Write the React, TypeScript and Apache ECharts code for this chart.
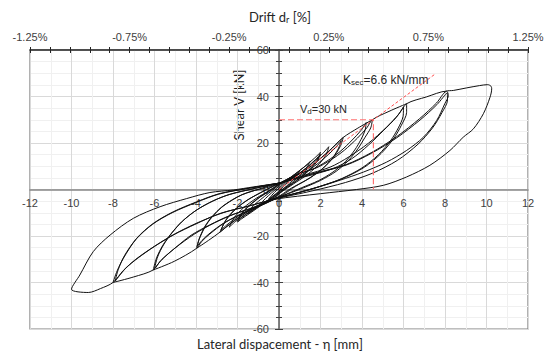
import React, { useEffect, useRef } from 'react';
import * as echarts from 'echarts';

type Pt = [number, number];

// Hysteresis loops: lateral displacement eta [mm], shear V [kN]
const loop05: Pt[] = [[0,0],[0.25,2.2],[0.5,4.3],[0.35,2.4],[0.1,0.2],[-0.15,-1.8],[-0.5,-4.0],[-0.35,-2.5],[-0.1,-0.2],[0.1,1.5]];
const loop10: Pt[] = [[0.1,1.5],[0.4,3.8],[0.75,6.0],[1.0,8.0],[0.8,5.4],[0.5,2.6],[0.2,0.2],[-0.1,-1.8],[-0.5,-4.4],[-0.8,-6.0],[-1.0,-7.5],[-0.8,-5.2],[-0.5,-2.6],[-0.2,-0.2],[0.05,1.8]];
const loop15: Pt[] = [[0.05,1.8],[0.5,4.8],[1.0,8.2],[1.3,10.3],[1.5,12],[1.3,9],[1.0,6],[0.6,2.8],[0.2,0.3],[-0.15,-2.2],[-0.6,-5],[-1.1,-8],[-1.5,-10.5],[-1.3,-7.6],[-0.9,-4.4],[-0.5,-1.6],[-0.1,1.2],[0.05,2.3]];
const loop20a: Pt[] = [[0.05,2.3],[0.6,5.5],[1.2,9.6],[1.7,13.4],[2.0,16],[1.85,12.8],[1.5,9],[1.0,5],[0.5,1.8],[0,-1.6],[-0.2,-3],[-0.8,-6.5],[-1.4,-10.2],[-1.8,-12.6],[-2,-14],[-1.8,-10.5],[-1.4,-6.8],[-0.9,-3.2],[-0.4,-0.4],[0.05,2.5]];
const loop20b: Pt[] = [[0.05,2.5],[0.7,5.2],[1.3,9.2],[1.75,12.8],[2.0,15.2],[1.8,11.6],[1.4,7.8],[0.9,4],[0.4,1],[-0.2,-3.2],[-0.8,-6.2],[-1.4,-9.6],[-2.0,-13.4],[-1.75,-9.6],[-1.3,-5.8],[-0.8,-2.4],[-0.3,0.4],[0.05,2.6]];
const loop25: Pt[] = [[0.05,2.6],[0.75,5.6],[1.5,10.6],[2.05,15],[2.4,18.4],[2.25,14.6],[1.85,10.2],[1.3,6],[0.7,2.4],[0,-1.8],[-0.2,-3.6],[-0.9,-6.8],[-1.6,-10.6],[-2.1,-13.8],[-2.4,-16.2],[-2.15,-12],[-1.7,-7.8],[-1.1,-3.8],[-0.5,-0.6],[0.05,2.7]];
const loop30a: Pt[] = [[0.05,2.6],[0.8,5.6],[1.6,10.4],[2.4,16.5],[2.9,20.8],[3.1,22.4],[2.95,18.5],[2.6,13.6],[2.1,9],[1.5,5],[0.8,1.4],[0.2,-2.2],[-0.2,-3.8],[-0.9,-6.5],[-1.6,-10],[-2.3,-14.5],[-2.84,-18.3],[-2.6,-13.8],[-2.2,-9.2],[-1.6,-5],[-0.9,-1.4],[-0.3,1.4],[0.05,2.8]];
const loop30b: Pt[] = [[0.05,2.8],[0.9,5.4],[1.7,10],[2.4,15.2],[2.8,18.8],[3.0,21],[2.85,17.4],[2.5,12.6],[2.0,8.2],[1.3,4],[0.6,0.6],[-0.2,-4],[-1,-6.8],[-1.8,-10.6],[-2.4,-14.4],[-2.8,-17.5],[-2.55,-13],[-2.1,-8.6],[-1.5,-4.4],[-0.8,-1],[0.05,2.8]];
const loop45a: Pt[] = [[0.05,2.8],[0.8,5.8],[1.6,10.6],[2.4,16.4],[3.1,22.4],[3.8,26.4],[4.5,30],[4.42,26.5],[4.15,22.5],[3.8,17.5],[3.35,12.5],[2.75,7.8],[2.0,3.9],[1.2,0.8],[0.4,-2],[-0.2,-4],[-0.9,-6.6],[-1.6,-10],[-2.3,-14.3],[-2.84,-18.3],[-3.4,-21.9],[-3.97,-25.3],[-3.85,-21.5],[-3.57,-16.2],[-3.25,-12.1],[-2.78,-7.8],[-2.26,-4.6],[-1.79,-2.3],[-1.31,-0.8],[-0.6,1.2],[0.05,2.8]];
const loop45b: Pt[] = [[0.05,2.8],[0.84,6.4],[1.68,9],[2.31,12.2],[2.94,16.3],[3.53,21.3],[3.95,25.4],[4.2,28.8],[4.15,25.5],[3.95,21.5],[3.65,17],[3.2,12],[2.6,7.5],[1.9,3.8],[1.1,0.8],[0.35,-2],[-0.2,-4.1],[-0.71,-6.3],[-1.42,-8.8],[-2.05,-11.5],[-2.69,-14.6],[-3.32,-18.7],[-3.71,-21.9],[-3.95,-24.5],[-3.83,-20.8],[-3.56,-15.7],[-3.24,-11.8],[-2.77,-7.6],[-2.25,-4.4],[-1.78,-2.2],[-1.3,-0.7],[-0.59,0.8],[0.05,2.8]];
const loop60a: Pt[] = [[0.05,2.8],[0.9,6.6],[1.8,9.3],[2.48,12.6],[3.15,16.9],[3.78,22.1],[4.23,26.5],[4.5,30],[5.3,33.6],[6.15,36.9],[6.15,33.2],[5.9,27.7],[5.54,22.1],[4.92,15.5],[4.12,9.6],[3.08,4.8],[2.03,1.5],[0.9,-1.5],[-0.2,-4],[-0.71,-6.2],[-1.43,-8.9],[-2.06,-11.6],[-2.7,-14.8],[-3.33,-19.1],[-3.73,-22.4],[-3.97,-25.3],[-5.05,-30.9],[-6.06,-34.6],[-5.9,-29.4],[-5.6,-24],[-5.2,-19],[-4.7,-14],[-4.0,-9],[-3.2,-5],[-2.4,-2.2],[-1.2,0.4],[0.05,2.8]];
const loop60b: Pt[] = [[0.05,2.8],[1.3,5.6],[2.6,9.0],[3.5,13.2],[4.3,19],[5.05,25.5],[5.65,31],[6.0,35.5],[5.98,31.5],[5.75,26.5],[5.4,21.3],[4.8,15],[4.0,9.3],[3.0,4.6],[2.0,1.4],[0.9,-1.4],[-0.2,-4.2],[-1.08,-7.4],[-2.16,-10.6],[-3.12,-14.4],[-4.08,-19.2],[-5.04,-25.4],[-5.64,-30.1],[-6.0,-34],[-5.85,-29],[-5.55,-23.6],[-5.15,-18.6],[-4.65,-13.6],[-3.95,-8.7],[-3.15,-4.8],[-2.35,-2.0],[-1.15,0.5],[0.05,2.9]];
const loop80a: Pt[] = [[0.05,2.8],[1.23,6.2],[2.46,9.6],[3.38,14.1],[4.31,19.9],[5.17,26.7],[5.78,32.5],[6.15,36.9],[7.1,39.8],[8.07,42.3],[8.16,40.4],[7.99,36.9],[7.6,29.7],[6.96,22.5],[6.15,16.8],[5.19,11.8],[4.07,7.5],[2.94,4.0],[1.5,0],[-0.2,-4.0],[-1.21,-7.6],[-2.42,-11.4],[-3.33,-15.2],[-4.24,-19.7],[-5.09,-25.8],[-5.7,-30.6],[-6.06,-34.6],[-7.0,-37.6],[-8,-40],[-7.8,-35],[-7.5,-29.6],[-6.86,-21],[-6.06,-14.6],[-5.1,-9.6],[-3.97,-5.3],[-2.84,-1.7],[-1.4,0.6],[0.05,2.8]];
const loop80b: Pt[] = [[0.05,2.8],[1.62,6.7],[3.24,10.5],[4.46,15.6],[5.67,22.2],[6.8,29.9],[7.61,36.5],[8.1,41.5],[8.12,38.5],[7.85,33],[7.4,26.5],[6.7,19.5],[5.7,12.5],[4.5,7],[3.2,3],[1.6,-0.6],[-0.2,-4.1],[-1.5,-7.2],[-2.84,-10.3],[-4.0,-14.8],[-5.1,-19.6],[-6.0,-24.5],[-6.8,-29.5],[-7.4,-34],[-7.9,-39.5],[-7.75,-34.5],[-7.45,-28.5],[-6.9,-21.5],[-6.1,-15],[-5.15,-10],[-4.0,-5.6],[-2.9,-2],[-1.5,0.5],[0.05,2.8]];
const loop100: Pt[] = [[0.05,2.8],[1.61,6.8],[3.23,10.7],[4.44,15.8],[5.65,22.6],[6.78,30.5],[7.59,37.2],[8.07,42.3],[8.4,42.6],[9.04,43.7],[9.67,44.7],[10.06,45.1],[10.22,44.4],[10.25,43.3],[10.17,39.7],[9.85,32.6],[9.37,26.1],[8.88,22.5],[8.24,16.8],[7.27,10.4],[6.15,5.4],[5.03,1.8],[3.74,0],[2,-1.8],[-0.2,-4.2],[-1.4,-7],[-2.7,-10],[-3.9,-14.2],[-5.0,-19],[-6.0,-24.4],[-6.9,-30],[-7.5,-34.8],[-8.0,-40],[-8.6,-42.6],[-9.19,-44.3],[-10,-42.9],[-9.6,-36.8],[-8.95,-26.7],[-8.14,-19.6],[-7.02,-12.4],[-5.73,-7.4],[-4.45,-3.9],[-3.33,-1.3],[-2.2,-0.2],[-1.24,1.1],[0.05,2.8]];

const loops: Pt[][] = [loop05, loop10, loop15, loop20a, loop20b, loop25, loop30a, loop30b, loop45a, loop45b, loop60a, loop60b, loop80a, loop80b, loop100];

// Design values
const designShear = 30; // V_d [kN]
const secantStiffness = 6.6; // K_sec [kN/mm]
const designDisp = 4.55; // V_d / K_sec [mm]
const secantEnd = 7.5; // [mm]
const vdLine: Pt[] = [[0, designShear], [designDisp, designShear], [designDisp, 0]];
const secantLine: Pt[] = [[0, 0], [secantEnd, secantEnd * secantStiffness]];

// Axis definitions
const xRange = [-12, 12];
const xStep = 2;
const yRange = [-60, 60];
const yStep = 20;
const driftLabels = ['-1.25%', '-0.75%', '-0.25%', '0.25%', '0.75%', '1.25%'];

const tickFont = "'Liberation Sans', Arial, sans-serif";
const titleFont = "Lato, 'Open Sans', sans-serif";

// layout
const G_LEFT = 30, G_RIGHT = 19, G_TOP = 50, G_BOTTOM = 29;
const W = 547, H = 358;
const plotW = W - G_LEFT - G_RIGHT;
const plotH = H - G_TOP - G_BOTTOM;

export default function App() {
  const ref = useRef<HTMLDivElement>(null);
  useEffect(() => {
    const chart = echarts.init(ref.current as HTMLDivElement, null, { renderer: 'svg' });
    // shift axes from the grid edge onto the zero lines
    const yShift = -plotW * (0 - xRange[0]) / (xRange[1] - xRange[0]);
    const xShift = -plotH * (0 - yRange[0]) / (yRange[1] - yRange[0]);
    const topAxisBase = {
      type: 'value', min: 0, max: 25, interval: 1, position: 'top',
      splitLine: { show: false },
    };
    const loopSeries = loops.map((d) => ({
      type: 'line', data: d, xAxisIndex: 0, yAxisIndex: 0,
      symbol: 'none', smooth: 0.3, silent: true,
      lineStyle: { color: '#111111', width: 1 },
    }));
    const option: any = {
      animation: false,
      backgroundColor: '#ffffff',
      grid: { left: G_LEFT, right: G_RIGHT, top: G_TOP, bottom: G_BOTTOM, show: true, borderColor: '#7f7f7f', borderWidth: 1.2, backgroundColor: 'transparent' },
      xAxis: [
        {
          type: 'value', min: xRange[0], max: xRange[1], interval: xStep, position: 'bottom', offset: xShift,
          axisLine: { onZero: false, lineStyle: { color: '#868686', width: 1.5 } },
          axisTick: { show: false },
          axisLabel: { color: '#404040', fontSize: 11, fontFamily: tickFont, margin: 8 },
          splitLine: { show: true, lineStyle: { color: '#d9d9d9', width: 1 } },
          minorTick: { show: false, splitNumber: 2 },
          minorSplitLine: { show: true, lineStyle: { color: '#f0f0f0', width: 1 } },
        },
        {
          ...topAxisBase,
          axisLine: { onZero: false, lineStyle: { color: '#262626', width: 1.5 } },
          axisTick: { show: true, length: 3, lineStyle: { color: '#262626' } },
          axisLabel: {
            color: '#404040', fontSize: 11, fontFamily: tickFont, margin: 8,
            formatter: (v: number) => { const r = Math.round(v); return r % 5 === 0 ? driftLabels[r / 5] : ''; },
          },
        },
        {
          ...topAxisBase,
          axisLine: { show: false, onZero: false },
          axisTick: { show: true, inside: true, length: 3, lineStyle: { color: '#262626' } },
          axisLabel: { show: false },
        },
      ],
      yAxis: [
        {
          type: 'value', min: yRange[0], max: yRange[1], interval: yStep, position: 'left', offset: yShift,
          axisLine: { onZero: false, lineStyle: { color: '#595959', width: 1.5 } },
          axisTick: { show: true, length: 4, lineStyle: { color: '#404040' } },
          minorTick: { show: true, splitNumber: 4, length: 3, lineStyle: { color: '#404040' } },
          axisLabel: { color: '#404040', fontSize: 11, fontFamily: tickFont, margin: 10 },
          splitLine: { show: true, lineStyle: { color: '#d9d9d9', width: 1 } },
          minorSplitLine: { show: true, lineStyle: { color: '#f0f0f0', width: 1 } },
        },
        {
          type: 'value', min: yRange[0], max: yRange[1], interval: yStep, position: 'right', offset: yShift,
          axisLine: { show: false, onZero: false },
          axisTick: { show: true, length: 4, lineStyle: { color: '#404040' } },
          minorTick: { show: true, splitNumber: 4, length: 3, lineStyle: { color: '#404040' } },
          axisLabel: { show: false },
          splitLine: { show: false },
        },
      ],
      series: [
        ...loopSeries,
        {
          type: 'line', data: vdLine, xAxisIndex: 0, yAxisIndex: 0, symbol: 'none', silent: true,
          lineStyle: { color: '#ff7373', width: 1.2, type: [6, 3] }, z: 5,
        },
        {
          type: 'line', data: secantLine, xAxisIndex: 0, yAxisIndex: 0, symbol: 'none', silent: true,
          lineStyle: { color: '#ff4d4d', width: 1, type: [3, 2] }, z: 5,
        },
      ],
      graphic: [
        {
          type: 'text', x: 280, y: 17,
          style: {
            text: '{a|Drift d}{s|r}{a| [%]}', align: 'center', verticalAlign: 'middle',
            rich: {
              a: { fontSize: 13, fontFamily: titleFont, fill: '#262626', lineHeight: 14, verticalAlign: 'top' },
              s: { fontSize: 9, fontFamily: titleFont, fill: '#262626', lineHeight: 9, padding: [7, 0, 0, 0], verticalAlign: 'bottom' },
            },
          },
        },
        {
          type: 'text', x: 280, y: 344,
          style: { text: 'Lateral dispacement - η [mm]', align: 'center', verticalAlign: 'middle', fontSize: 13, fontFamily: titleFont, fill: '#262626' },
        },
        {
          type: 'text', x: 239, y: 105, rotation: Math.PI / 2,
          style: { text: 'Shear V [kN]', align: 'center', verticalAlign: 'middle', fontSize: 13, fontFamily: titleFont, fill: '#262626' },
        },
        {
          type: 'text', x: 343, y: 80, z: 10,
          style: {
            text: '{a|K}{s|sec}{a|=6.6 kN/mm}', align: 'left', verticalAlign: 'middle',
            rich: {
              a: { fontSize: 12, fontFamily: tickFont, fill: '#262626', lineHeight: 13, verticalAlign: 'top' },
              s: { fontSize: 8, fontFamily: tickFont, fill: '#262626', lineHeight: 8, padding: [7, 0, 0, 0], verticalAlign: 'bottom' },
            },
          },
        },
        {
          type: 'text', x: 300, y: 109, z: 10,
          style: {
            text: '{a|V}{s|d}{a|=30 kN}', align: 'left', verticalAlign: 'middle',
            rich: {
              a: { fontSize: 11, fontFamily: tickFont, fill: '#262626', lineHeight: 12, verticalAlign: 'top' },
              s: { fontSize: 8, fontFamily: tickFont, fill: '#262626', lineHeight: 8, padding: [6, 0, 0, 0], verticalAlign: 'bottom' },
            },
          },
        },
      ],
    };
    chart.setOption(option);
    return () => chart.dispose();
  }, []);
  return <div ref={ref} style={{ position: 'absolute', left: 0, top: 0, width: W, height: H }} />;
}
